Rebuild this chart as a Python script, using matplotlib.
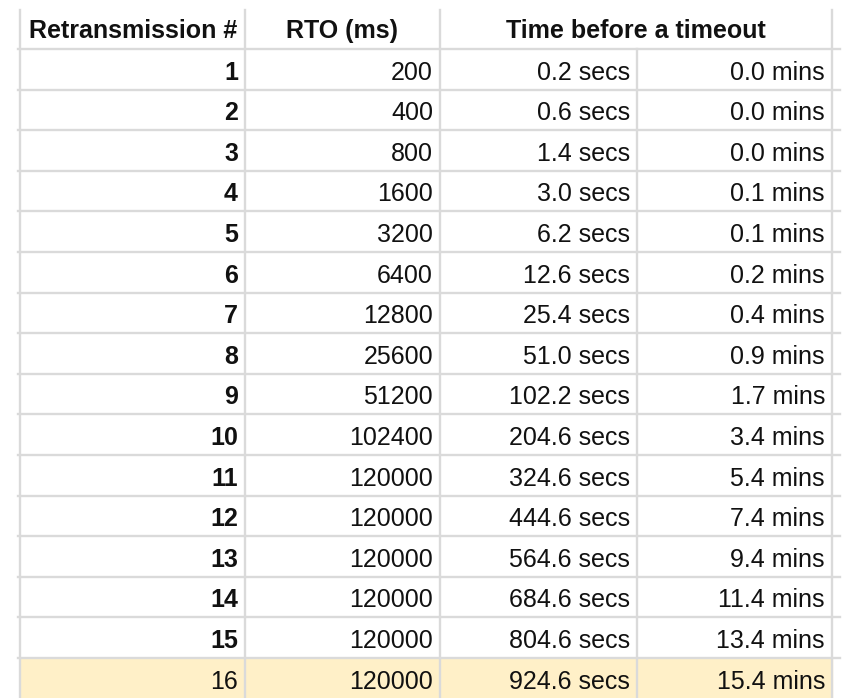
import matplotlib.pyplot as plt
from matplotlib.patches import Rectangle

plt.rcParams['font.family'] = ['Liberation Sans', 'DejaVu Sans']

# table data
retrans = [str(i) for i in range(1, 17)]
rto_ms = [200, 400, 800, 1600, 3200, 6400, 12800, 25600, 51200, 102400,
          120000, 120000, 120000, 120000, 120000, 120000]
secs = [0.2, 0.6, 1.4, 3.0, 6.2, 12.6, 25.4, 51.0, 102.2, 204.6,
        324.6, 444.6, 564.6, 684.6, 804.6, 924.6]
mins = [0.0, 0.0, 0.0, 0.1, 0.1, 0.2, 0.4, 0.9, 1.7, 3.4,
        5.4, 7.4, 9.4, 11.4, 13.4, 15.4]
headers = ['Retransmission #', 'RTO (ms)', 'Time before a timeout']
highlight_row = 15

# layout (pixel units)
W, H = 861, 698
col_x = [20, 245, 440, 637, 832]
top = 10
head_bot = 49
row_h = 40.6
grid_c = '#dadada'
txt_c = '#111111'
fs = 18

fig = plt.figure(figsize=(W / 100, H / 100), dpi=100)
ax = fig.add_axes([0, 0, 1, 1])
ax.set_xlim(0, W)
ax.set_ylim(H, 0)
ax.axis('off')

# highlighted row
y0 = head_bot + highlight_row * row_h
ax.add_patch(Rectangle((col_x[0], y0), col_x[-1] - col_x[0], row_h + 5,
                       color='#fff0c8', zorder=0))

# grid lines
n = len(retrans)
for i in range(n):
    y = head_bot + i * row_h
    ax.plot([18, 840], [y, y], color=grid_c, lw=1.7, zorder=1)
for x in [col_x[0], col_x[1], col_x[2], col_x[4]]:
    ax.plot([x, x], [top, H + 5], color=grid_c, lw=1.7, zorder=1)
ax.plot([col_x[3], col_x[3]], [head_bot, H + 5], color=grid_c, lw=1.7, zorder=1)

# header
hb = head_bot - 11
ax.text((col_x[0] + col_x[1]) / 2 + 1, hb, headers[0], ha='center', va='baseline',
        fontsize=fs, fontweight='bold', color=txt_c)
ax.text((col_x[1] + col_x[2]) / 2, hb, headers[1], ha='center', va='baseline',
        fontsize=fs, fontweight='bold', color=txt_c)
ax.text((col_x[2] + col_x[4]) / 2, hb, headers[2], ha='center', va='baseline',
        fontsize=fs, fontweight='bold', color=txt_c)

# body
pad = 7
for i in range(n):
    yb = head_bot + (i + 1) * row_h - 10
    ax.text(col_x[1] - pad, yb, retrans[i], ha='right', va='baseline', fontsize=fs,
            fontweight='normal' if i == highlight_row else 'bold', color=txt_c)
    ax.text(col_x[2] - pad, yb, str(rto_ms[i]), ha='right', va='baseline',
            fontsize=fs, color=txt_c)
    ax.text(col_x[3] - pad, yb, f'{secs[i]:.1f} secs', ha='right', va='baseline',
            fontsize=fs, color=txt_c)
    ax.text(col_x[4] - pad, yb, f'{mins[i]:.1f} mins', ha='right', va='baseline',
            fontsize=fs, color=txt_c)

fig.savefig('out.png', dpi=100)
